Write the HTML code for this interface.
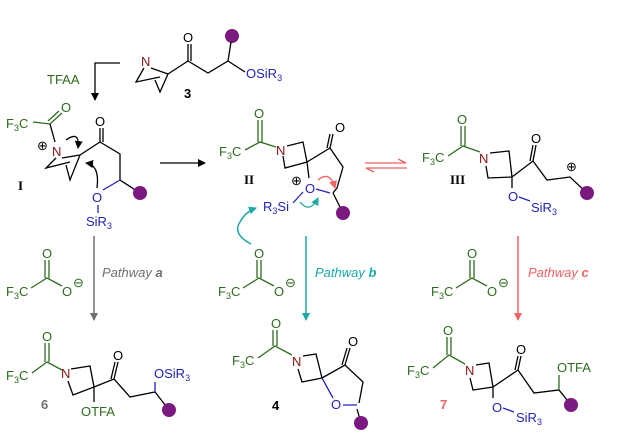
<!DOCTYPE html>
<html><head><meta charset="utf-8"><style>
html,body{margin:0;padding:0;background:#fff;overflow:hidden}
svg{display:block;font-family:"Liberation Sans",sans-serif}
.g{fill:#2e6b1e}.b{fill:#2323b5}.n{fill:#8a1515}.k{fill:#000}
.lb{stroke:#000;stroke-width:1.3;fill:none}
.lg{stroke:#2e6b1e;stroke-width:1.3;fill:none}
.lu{stroke:#2323b5;stroke-width:1.3;fill:none}
text{font-size:13px}
</style></head><body>
<svg width="636" height="440" viewBox="0 0 636 440">
<defs>
<marker id="ak" markerWidth="8" markerHeight="8" refX="7" refY="4" orient="auto" markerUnits="userSpaceOnUse"><path d="M0,0L8,4L0,8z" fill="#000"/></marker>
<marker id="ag" markerWidth="8" markerHeight="8" refX="7" refY="4" orient="auto" markerUnits="userSpaceOnUse"><path d="M0,0L8,4L0,8z" fill="#707070"/></marker>
<marker id="at" markerWidth="8" markerHeight="8" refX="7" refY="4" orient="auto" markerUnits="userSpaceOnUse"><path d="M0,0L8,4L0,8z" fill="#1aa8a8"/></marker>
<marker id="ar" markerWidth="8" markerHeight="8" refX="7" refY="4" orient="auto" markerUnits="userSpaceOnUse"><path d="M0,0L8,4L0,8z" fill="#f26262"/></marker>
</defs>

<!-- compound 3 -->
<text x="141" y="66" class="n">N</text>
<path class="lb" d="M144,68L136,82L160,77M151,68L168,74L160,92L155,80"/>
<path class="lb" d="M168,74L188,61L208,73L228,61L245,72M188,61V44M191,61V44"/>
<text x="183" y="42" class="k">O</text>
<circle cx="232" cy="36" r="7" fill="#7a1a80"/>
<path class="lb" d="M228,61L231,42"/>
<text x="246" y="78" class="b">OSiR<tspan font-size="9" dy="3">3</tspan></text>
<text x="184" y="98" class="k" font-weight="bold">3</text>

<text x="47" y="84" class="g">TFAA</text>
<path class="lb" d="M120,63H95V100" marker-end="url(#ak)"/>

<!-- I -->
<text x="6" y="128" class="g">F<tspan font-size="9" dy="3">3</tspan><tspan dy="-3">C</tspan></text>
<path class="lg" d="M33,122L50,124L62,113M48,121L59,111"/>
<text x="61" y="112" class="g">O</text>
<path class="lb" d="M50,124L55,142"/>
<text x="52" y="156" class="n">N</text>
<text x="37" y="150" class="k" font-size="12">⊕</text>
<path class="lb" d="M56,158L46,168L70,162M62,158L80,155L70,180L66,165M80,155L100,142L120,154L120,180L140,193M100,142V128M103,142V128"/>
<text x="95" y="126" class="k">O</text>
<circle cx="140" cy="193" r="7" fill="#7a1a80"/>
<path class="lu" d="M120,180L103,190"/>
<text x="92" y="202" class="b">O</text>
<path class="lu" d="M98,205V213"/>
<text x="86" y="226" class="b">SiR<tspan font-size="9" dy="3">3</tspan></text>
<path class="lb" d="M66,140Q80,130 78,148" marker-end="url(#ak)"/>
<path class="lb" d="M97,188Q100,165 86,163" marker-end="url(#ak)"/>
<text x="18" y="190" class="k" font-family="Liberation Serif" font-weight="bold" font-size="15">I</text>

<path class="lb" d="M160,163H205" marker-end="url(#ak)"/>

<!-- II -->
<text x="219" y="156" class="g">F<tspan font-size="9" dy="3">3</tspan><tspan dy="-3">C</tspan></text>
<path class="lg" d="M245,150L260,142L276,147M258,142V120M262,142V120"/>
<text x="254" y="118" class="g">O</text>
<text x="276" y="155" class="n">N</text>
<path class="lb" d="M287,146L303,142L307,162L285,168L283,156M307,162L330,148L343,167L337,188L333,193M330,148L333,134M327,148L330,134M307,162L309,178M333,193L343,213"/>
<text x="335" y="132" class="k">O</text>
<text x="305" y="193" class="b">O</text>
<path class="lu" d="M316,189L330,193M293,203L303,192"/>
<text x="291" y="185" class="k" font-size="12">⊕</text>
<circle cx="343" cy="213" r="7" fill="#7a1a80"/>
<text x="263" y="211" class="b">R<tspan font-size="9" dy="3">3</tspan><tspan dy="-3">Si</tspan></text>
<path stroke="#1aa8a8" stroke-width="1.3" fill="none" d="M300,202Q310,214 318,198" marker-end="url(#at)"/>
<path stroke="#f26262" stroke-width="1.3" fill="none" d="M318,180Q330,170 335,188" marker-end="url(#ar)"/>
<text x="244" y="184" class="k" font-family="Liberation Serif" font-weight="bold" font-size="15">II</text>

<path stroke="#f26262" stroke-width="1.3" fill="none" d="M365,163H406L398,159M407,168H366L374,172"/>

<!-- III -->
<text x="422" y="162" class="g">F<tspan font-size="9" dy="3">3</tspan><tspan dy="-3">C</tspan></text>
<path class="lg" d="M448,156L463,146L480,152M461,146V126M465,146V126"/>
<text x="457" y="124" class="g">O</text>
<text x="479" y="163" class="n">N</text>
<path class="lb" d="M490,153L509,151L512,177L488,178L486,166M512,177L533,161L547,180L570,177L587,193M533,161L536,145M530,161L533,145M512,177V188"/>
<text x="531" y="143" class="k">O</text>
<text x="566" y="171" class="k" font-size="12">⊕</text>
<circle cx="587" cy="193" r="7" fill="#7a1a80"/>
<text x="508" y="201" class="b">O</text>
<path class="lu" d="M519,197L530,201"/>
<text x="531" y="212" class="b">SiR<tspan font-size="9" dy="3">3</tspan></text>
<text x="450" y="184" class="k" font-family="Liberation Serif" font-weight="bold" font-size="15">III</text>

<!-- pathway arrows -->
<path stroke="#707070" stroke-width="1.5" d="M94,236V320" marker-end="url(#ag)"/>
<text x="102" y="277" fill="#707070" font-style="italic">Pathway <tspan font-weight="bold">a</tspan></text>
<path stroke="#1aa8a8" stroke-width="1.5" d="M306,236V320" marker-end="url(#at)"/>
<text x="315" y="277" fill="#1aa8a8" font-style="italic">Pathway <tspan font-weight="bold">b</tspan></text>
<path stroke="#f26262" stroke-width="1.5" d="M518,236V320" marker-end="url(#ar)"/>
<text x="528" y="277" fill="#f26262" font-style="italic">Pathway <tspan font-weight="bold">c</tspan></text>
<path stroke="#1aa8a8" stroke-width="1.5" fill="none" d="M251,244Q232,234 240,222Q245,212 256,208" marker-end="url(#at)"/>

<!-- trifluoroacetates -->
<g id="tfa">
<text x="6" y="296" class="g">F<tspan font-size="9" dy="3">3</tspan><tspan dy="-3">C</tspan></text>
<path class="lg" d="M31,288L47,278L62,286M45,278V260M49,278V260"/>
<text x="42" y="258" class="g">O</text>
<text x="62" y="296" class="g">O</text>
<text x="73" y="287" class="g" font-size="12">⊖</text>
</g>
<use href="#tfa" x="212"/>
<use href="#tfa" x="425"/>

<!-- 6 -->
<text x="6" y="380" class="g">F<tspan font-size="9" dy="3">3</tspan><tspan dy="-3">C</tspan></text>
<path class="lg" d="M32,373L47,362L62,370M45,362V343M49,362V343"/>
<text x="42" y="341" class="g">O</text>
<text x="61" y="378" class="n">N</text>
<path class="lb" d="M71,369L90,366L94,387L73,395L68,381M94,387L114,379L130,397L155,392L169,410M114,379L118,362M111,379L115,362M94,387V402"/>
<text x="113" y="360" class="k">O</text>
<path class="lu" d="M155,392V382"/>
<text x="154" y="378" class="b">OSiR<tspan font-size="9" dy="3">3</tspan></text>
<circle cx="169" cy="410" r="7" fill="#7a1a80"/>
<text x="81" y="416" class="g">OTFA</text>
<text x="41" y="409" fill="#707070" font-weight="bold">6</text>

<!-- 4 -->
<text x="232" y="365" class="g">F<tspan font-size="9" dy="3">3</tspan><tspan dy="-3">C</tspan></text>
<path class="lg" d="M258,358L275,346L292,355M273,346V330M277,346V330"/>
<text x="271" y="328" class="g">O</text>
<text x="292" y="366" class="n">N</text>
<path class="lb" d="M303,356L316,354L322,378L302,382L298,369M322,378L345,365L363,382L359,403M345,365L350,348M342,365L347,348M357,409L361,423"/>
<text x="348" y="346" class="k">O</text>
<text x="331" y="409" class="b">O</text>
<path class="lu" d="M322,378L333,398M343,405L357,405"/>
<circle cx="361" cy="423" r="7" fill="#7a1a80"/>
<text x="272" y="410" class="k" font-weight="bold">4</text>

<!-- 7 -->
<text x="407" y="375" class="g">F<tspan font-size="9" dy="3">3</tspan><tspan dy="-3">C</tspan></text>
<path class="lg" d="M433,368L449,355L465,364M447,355V337M451,355V337"/>
<text x="443" y="335" class="g">O</text>
<text x="465" y="375" class="n">N</text>
<path class="lb" d="M476,365L489,363L493,387L473,390L470,378M493,387L518,370L534,393L559,390L571,405M518,370L521,356M515,370L518,356M493,387V398"/>
<text x="516" y="354" class="k">O</text>
<path class="lg" d="M559,390V375"/>
<text x="557" y="372" class="g">OTFA</text>
<circle cx="571" cy="405" r="7" fill="#7a1a80"/>
<text x="492" y="412" class="b">O</text>
<path class="lu" d="M503,408L514,412"/>
<text x="516" y="422" class="b">SiR<tspan font-size="9" dy="3">3</tspan></text>
<text x="440" y="409" fill="#f26262" font-weight="bold">7</text>
</svg>
</body></html>
